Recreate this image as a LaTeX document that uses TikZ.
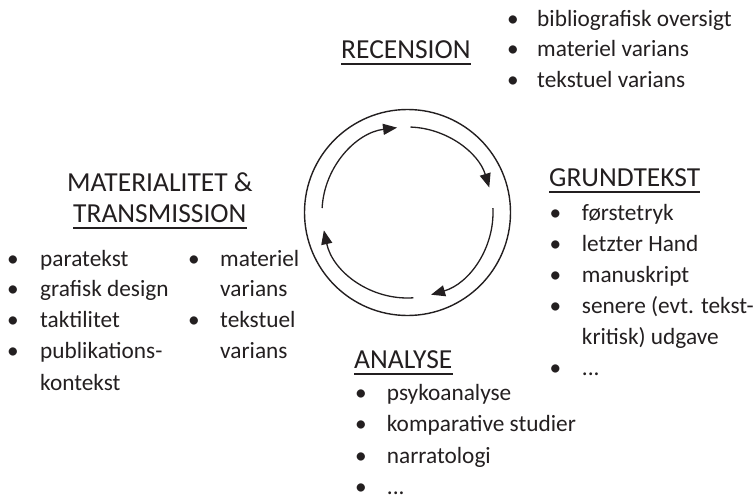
\documentclass[tikz,border=0pt]{standalone}
\usepackage{fontspec}
\setmainfont{Carlito}
\usetikzlibrary{arrows.meta}
\definecolor{txt}{HTML}{231F20}
\begin{document}
\begin{tikzpicture}[x=1pt,y=1pt,
  every node/.style={text=txt, inner sep=0pt, anchor=base west, font=\fontsize{23.3}{28}\selectfont},
  title/.style={font=\fontsize{27.5}{32}\selectfont},
  uline/.style={draw=txt, line width=1.8pt},
  ring/.style={draw=txt, line width=1.4pt},
  cyc/.style={draw=txt, line width=1.3pt, -{Triangle[length=14pt,width=11pt]}}
]
\useasboundingbox (0,0) rectangle (755,-495);

% cycle
\coordinate (c) at (407.5,-212.5);
\draw[ring] (c) circle (103);
\draw[cyc] ([shift={(177:85.5)}]c) arc (177:97:85.5);
\draw[cyc] ([shift={(88:85.5)}]c) arc (88:17:85.5);
\draw[cyc] ([shift={(3:85.5)}]c) arc (3:-74:85.5);
\draw[cyc] ([shift={(-86:85.5)}]c) arc (-86:-168:85.5);

% RECENSION
\node[title] (rec) at (341,-58.3) {RECENSION};
\draw[uline] ([yshift=-5.5pt]rec.base west) -- ([yshift=-5.5pt]rec.base east);
\node (rb1) at (507,-26.7) {•}; \node (rt1) at (537,-26.7) {bibliografisk oversigt};
\node (rb2) at (507,-56.7) {•}; \node (rt2) at (537,-56.7) {materiel varians};
\node (rb3) at (507,-87.3) {•}; \node (rt3) at (537,-87.3) {tekstuel varians};

% GRUNDTEKST
\node[title] (gru) at (549,-186.7) {GRUNDTEKST};
\draw[uline] ([yshift=-5.5pt]gru.base west) -- ([yshift=-5.5pt]gru.base east);
\node (gb1) at (549.5,-220) {•}; \node (gt1) at (581.7,-220) {førstetryk};
\node (gb2) at (549.5,-251) {•}; \node (gt2) at (581.7,-251) {letzter Hand};
\node (gb3) at (549.5,-282) {•}; \node (gt3) at (581.7,-282) {manuskript};
\node (gb4) at (549.5,-313) {•}; \node (gt4) at (581.7,-313) {senere (evt. tekst-};
\node (gt5) at (581.7,-344) {kritisk) udgave};
\node (gb6) at (549.5,-375) {•}; \node (gt6) at (581.7,-375) {...};

% MATERIALITET
\node[title] (mat1) at (67,-191.7) {MATERIALITET \&};
\node[title] (mat2) at (73,-222.7) {TRANSMISSION};
\draw[uline] ([yshift=-5.5pt]mat2.base west) -- ([yshift=-5.5pt]mat2.base east);
\node (mb1) at (7,-266) {•}; \node (mt1) at (40,-266) {paratekst};
\node (mb2) at (7,-296.7) {•}; \node (mt2) at (40,-296.7) {grafisk design};
\node (mb3) at (7,-327.3) {•}; \node (mt3) at (40,-327.3) {taktilitet};
\node (mb4) at (7,-358.3) {•}; \node (mt4) at (40,-358.3) {publikations-};
\node (mt5) at (40,-390) {kontekst};
\node (nb1) at (188,-266) {•}; \node (nt1) at (220,-266) {materiel};
\node (nt2) at (220,-296.7) {varians};
\node (nb3) at (188,-327.3) {•}; \node (nt3) at (220,-327.3) {tekstuel};
\node (nt4) at (220,-358.3) {varians};

% ANALYSE
\node[title] (ana) at (354,-368.3) {ANALYSE};
\draw[uline] ([yshift=-5.5pt]ana.base west) -- ([yshift=-5.5pt]ana.base east);
\node (ab1) at (355,-400) {•}; \node (at1) at (386.7,-400) {psykoanalyse};
\node (ab2) at (355,-431.7) {•}; \node (at2) at (386.7,-431.7) {komparative studier};
\node (ab3) at (355,-463.3) {•}; \node (at3) at (386.7,-463.3) {narratologi};
\node (ab4) at (355,-494.5) {•}; \node (at4) at (386.7,-494.5) {...};
\end{tikzpicture}
\end{document}
